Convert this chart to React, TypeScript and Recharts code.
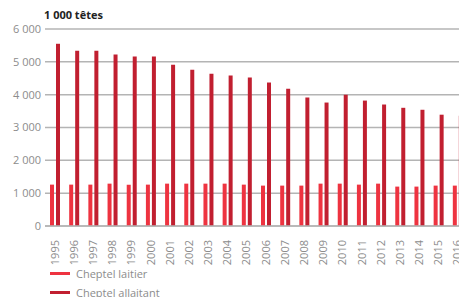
import { Bar, BarChart, CartesianGrid, XAxis, YAxis } from "recharts";

const years = [
  "1995", "1996", "1997", "1998", "1999", "2000", "2001", "2002", "2003", "2004", "2005",
  "2006", "2007", "2008", "2009", "2010", "2011", "2012", "2013", "2014", "2015", "2016",
];
const laitier = [
  1260, 1260, 1260, 1290, 1260, 1260, 1290, 1290, 1290, 1290, 1260,
  1230, 1230, 1230, 1290, 1290, 1260, 1290, 1200, 1200, 1230, 1230,
];
const allaitant = [
  5550, 5340, 5340, 5220, 5160, 5160, 4910, 4760, 4640, 4580, 4520,
  4370, 4180, 3910, 3760, 4000, 3820, 3700, 3600, 3540, 3390, 3360,
];
const yTicks = [0, 1000, 2000, 3000, 4000, 5000, 6000];

const data = years.map((y, i) => ({ year: y, laitier: laitier[i], allaitant: allaitant[i] }));

const FONT = "'Open Sans', sans-serif";
const GREY = "#8c8c8c";
const RED_LIGHT = "#ee3340";
const RED_DARK = "#c11f30";

const fmt = (v: number) => (v >= 1000 ? `${Math.floor(v / 1000)} ${String(v % 1000).padStart(3, "0")}` : String(v));

const YearTick = (props: any) => {
  const { x, y, payload } = props;
  return (
    <text
      x={x + 4}
      y={y + 6}
      transform={`rotate(-90 ${x + 4} ${y + 6})`}
      textAnchor="end"
      fill={GREY}
      fontSize={11}
      fontFamily={FONT}
    >
      {payload.value}
    </text>
  );
};

export default function App() {
  return (
    <div style={{ position: "absolute", left: 0, top: 0, width: 459, height: 297, overflow: "hidden", background: "#fff" }}>
      <div
        style={{ position: "absolute", left: 44, top: 7, fontFamily: FONT, fontWeight: 700, fontSize: 11, color: "#222" }}
      >
        1 000 têtes
      </div>
      <BarChart
        width={467}
        height={297}
        data={data}
        margin={{ top: 29, right: 0, left: 0, bottom: 31 }}
        barSize={4}
        barGap={2}
      >
        <CartesianGrid vertical={false} stroke="#b4b4b4" strokeWidth={1.5} />
        <XAxis
          dataKey="year"
          height={40}
          interval={0}
          tickLine={false}
          axisLine={{ stroke: "#b4b4b4", strokeWidth: 1.5 }}
          tick={<YearTick />}
        />
        <YAxis
          width={45}
          domain={[0, 6000]}
          ticks={yTicks}
          tickFormatter={fmt}
          axisLine={false}
          tickLine={false}
          tickSize={0}
          tickMargin={4}
          tick={{ fill: GREY, fontSize: 11, fontFamily: FONT }}
        />
        <Bar dataKey="laitier" fill={RED_LIGHT} isAnimationActive={false} />
        <Bar dataKey="allaitant" fill={RED_DARK} isAnimationActive={false} />
      </BarChart>
      {[
        { label: "Cheptel laitier", color: RED_LIGHT, top: 266 },
        { label: "Cheptel allaitant", color: RED_DARK, top: 285 },
      ].map((item) => (
        <div
          key={item.label}
          style={{ position: "absolute", left: 50, top: item.top, display: "flex", alignItems: "center", fontFamily: FONT, fontSize: 11, color: GREY }}
        >
          <span style={{ display: "inline-block", width: 20, height: 3, background: item.color, marginRight: 6 }} />
          {item.label}
        </div>
      ))}
    </div>
  );
}
